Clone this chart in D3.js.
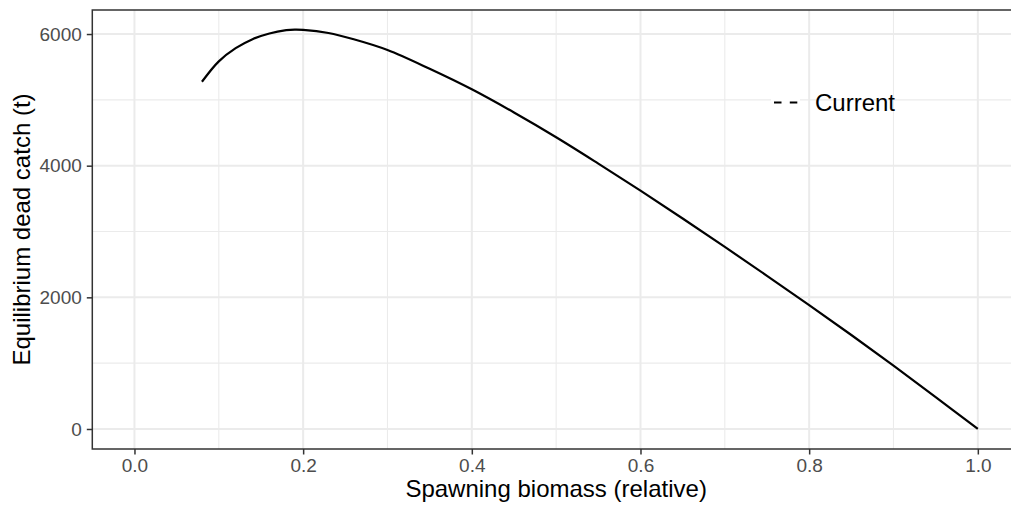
<!DOCTYPE html>
<html><head><meta charset="utf-8">
<script src="https://cdn.jsdelivr.net/npm/d3@7"></script>
<style>
html,body{margin:0;padding:0;background:#fff;}
svg{display:block;font-family:"Liberation Sans",Arial,Helvetica,sans-serif;}
</style></head>
<body>
<svg id="chart" width="1011" height="506"></svg>
<script>
// Data
const biomass = [0.08,0.10,0.12,0.14,0.16,0.18,0.19,0.20,0.23,0.26,0.30,0.35,0.40,0.45,0.50,0.55,0.60,0.65,0.70,0.75,0.80,0.85,0.90,0.95,1.00];
const catchT  = [5275,5585,5785,5922,6008,6058,6068,6064,6015,5920,5757,5472,5160,4808,4432,4032,3622,3198,2766,2327,1882,1428,962,485,0];
const xTicks = [0,0.2,0.4,0.6,0.8,1.0];
const xMinor = [0.1,0.3,0.5,0.7,0.9];
const yTicks = [0,2000,4000,6000];
const yMinor = [1000,3000,5000];
const xTitle = "Spawning biomass (relative)";
const yTitle = "Equilibrium dead catch (t)";
const legendLabels = ["Current"];

const svg = d3.select("#chart");
const L = 92.3, T = 10, B = 449, R = 1020;
const x = d3.scaleLinear().domain([-0.05, 1.05]).range([L, R]);
const y = d3.scaleLinear().domain([-304, 6365]).range([B, T]);

svg.append("rect").attr("width",1011).attr("height",506).attr("fill","#fff");

const g = svg.append("g");
// minor grid
g.selectAll(".vminor").data(xMinor).join("line")
  .attr("x1",d=>x(d)).attr("x2",d=>x(d)).attr("y1",T).attr("y2",B)
  .attr("stroke","#EBEBEB").attr("stroke-width",1.1);
g.selectAll(".hminor").data(yMinor).join("line")
  .attr("y1",d=>y(d)).attr("y2",d=>y(d)).attr("x1",L).attr("x2",R)
  .attr("stroke","#EBEBEB").attr("stroke-width",1.1);
// major grid
g.selectAll(".vmajor").data(xTicks).join("line")
  .attr("x1",d=>x(d)).attr("x2",d=>x(d)).attr("y1",T).attr("y2",B)
  .attr("stroke","#EBEBEB").attr("stroke-width",2);
g.selectAll(".hmajor").data(yTicks).join("line")
  .attr("y1",d=>y(d)).attr("y2",d=>y(d)).attr("x1",L).attr("x2",R)
  .attr("stroke","#EBEBEB").attr("stroke-width",2);

// legend key (inside panel)
const keyX = 771, keyY = 88, keyS = 29;
svg.append("rect").attr("x",keyX).attr("y",keyY).attr("width",keyS).attr("height",keyS).attr("fill","#fff");
svg.append("line").attr("x1",keyX+3).attr("x2",keyX+keyS-2.5).attr("y1",keyY+keyS/2).attr("y2",keyY+keyS/2)
  .attr("stroke","#000").attr("stroke-width",2.2).attr("stroke-dasharray","7.5,8.3");
svg.selectAll(".legtext").data(legendLabels).join("text")
  .attr("x",815).attr("y",111).attr("font-size",24).attr("fill","#000").text(d=>d);

// curve
const line = d3.line().x((d,i)=>x(biomass[i])).y(d=>y(d)).curve(d3.curveCatmullRom.alpha(0.5));
svg.append("path").datum(catchT).attr("d",line)
  .attr("fill","none").attr("stroke","#000").attr("stroke-width",2.2);

// panel border
svg.append("rect").attr("x",L).attr("y",T).attr("width",R-L).attr("height",B-T)
  .attr("fill","none").attr("stroke","#333333").attr("stroke-width",1.5);

// axes
const xAxis = d3.axisBottom(x).tickValues(xTicks).tickFormat(d3.format(".1f")).tickSize(5.5).tickPadding(4);
const gx = svg.append("g").attr("transform",`translate(0,${B})`).call(xAxis);
gx.select(".domain").remove();
gx.selectAll(".tick line").attr("stroke","#333333").attr("stroke-width",1.5);
gx.selectAll(".tick text").attr("fill","#4D4D4D").attr("font-size",19).attr("font-family","Liberation Sans, Arial, sans-serif");

const yAxis = d3.axisLeft(y).tickValues(yTicks).tickFormat(d3.format("d")).tickSize(5.5).tickPadding(5);
const gy = svg.append("g").attr("transform",`translate(${L},0)`).call(yAxis);
gy.select(".domain").remove();
gy.selectAll(".tick line").attr("stroke","#333333").attr("stroke-width",1.5);
gy.selectAll(".tick text").attr("fill","#4D4D4D").attr("font-size",19).attr("font-family","Liberation Sans, Arial, sans-serif");

// titles
svg.append("text").attr("x",(L+R)/2).attr("y",497).attr("text-anchor","middle")
  .attr("font-size",24).attr("fill","#000").text(xTitle);
svg.append("text").attr("transform",`translate(29.5,${(T+B)/2}) rotate(-90)`).attr("text-anchor","middle")
  .attr("font-size",24).attr("fill","#000").text(yTitle);
</script>
</body></html>
